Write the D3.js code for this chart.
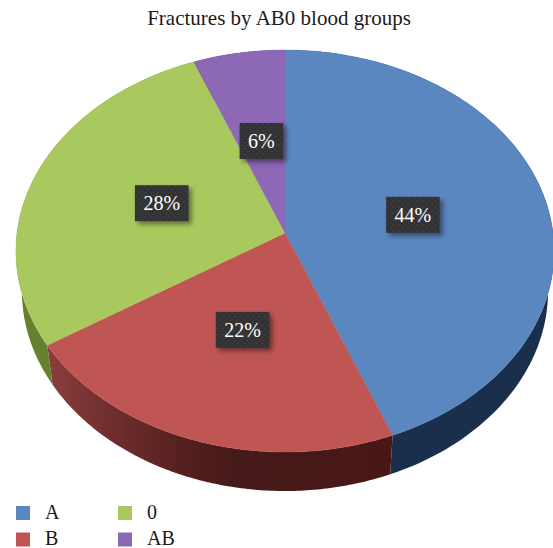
<!DOCTYPE html>
<html>
<head>
<meta charset="utf-8">
<script src="https://cdnjs.cloudflare.com/ajax/libs/d3/7.8.5/d3.min.js"></script>
<style>
  html, body { margin: 0; padding: 0; background: #fff; }
  svg { display: block; }
  text { font-family: "Liberation Serif", serif; fill: #1a1a1a; }
</style>
</head>
<body>
<svg id="chart" width="553" height="548"></svg>
<script>
const groups = ["A", "B", "0", "AB"];
const shares = [44, 22, 28, 6];
const faceColors = ["#5b87c0", "#c05654", "#a9c95f", "#8c68b5"];
const wallColors = ["#1a2f4c", "url(#redWall)", "#66802f", "#4a3563"];
const chartTitle = "Fractures by AB0 blood groups";

const width = 553;
const height = 548;
const svg = d3.select("#chart").attr("viewBox", `0 0 ${width} ${height}`);

// tilted pie: a projective map of the unit circle onto the screen
const apex = { x: 285, y: 233 };
const tilt = { k: 268, b: 178.5, c: -0.0896 };
const depth = { dy: 40, shrinkX: 263 / 269, shrinkY: 200 / 201, cx: 284, cy: 251 };

function projectTop(angle, r) {
  const ux = r * Math.sin(angle);
  const uy = -r * Math.cos(angle);
  const w = 1 + tilt.c * uy;
  return [apex.x + (tilt.k * ux) / w, (apex.y + tilt.b * uy) / w];
}

function projectBottom(angle) {
  const [x, y] = projectTop(angle, 1);
  return [
    depth.cx + (x - depth.cx) * depth.shrinkX,
    depth.cy + depth.dy + (y - depth.cy) * depth.shrinkY,
  ];
}

const pie = d3.pie().sort(null).value((d) => d.share);
const slices = pie(groups.map((g, i) => ({ group: g, share: shares[i] })));
const faceColor = d3.scaleOrdinal().domain(groups).range(faceColors);
const wallColor = d3.scaleOrdinal().domain(groups).range(wallColors);
const line = d3.line();

function arcAngles(d) {
  return d3.range(0, 121).map((i) => d.startAngle + ((d.endAngle - d.startAngle) * i) / 120);
}

const defs = svg.append("defs");

const redWall = defs
  .append("linearGradient")
  .attr("id", "redWall")
  .attr("gradientUnits", "userSpaceOnUse")
  .attr("x1", 45)
  .attr("x2", 392)
  .attr("y1", 0)
  .attr("y2", 0);
[
  [0, "#8c3f3d"],
  [0.16, "#72302f"],
  [0.45, "#501c1c"],
  [0.56, "#451a1a"],
  [1, "#4a1616"],
].forEach(([o, c]) => redWall.append("stop").attr("offset", o).attr("stop-color", c));

const dots = defs
  .append("pattern")
  .attr("id", "labelDots")
  .attr("patternUnits", "userSpaceOnUse")
  .attr("width", 6)
  .attr("height", 6);
dots.append("rect").attr("width", 6).attr("height", 6).attr("fill", "#333336");
dots.append("circle").attr("cx", 1.5).attr("cy", 1.5).attr("r", 0.8).attr("fill", "#444447");
dots.append("circle").attr("cx", 4.5).attr("cy", 4.5).attr("r", 0.8).attr("fill", "#444447");

defs
  .append("filter")
  .attr("id", "labelShadow")
  .attr("x", "-30%")
  .attr("y", "-30%")
  .attr("width", "170%")
  .attr("height", "170%")
  .append("feDropShadow")
  .attr("dx", 3)
  .attr("dy", 3)
  .attr("stdDeviation", 2.5)
  .attr("flood-color", "#000")
  .attr("flood-opacity", 0.45);

// side walls first, the top face paints over the hidden part
svg
  .append("g")
  .selectAll("path")
  .data(slices)
  .join("path")
  .attr("fill", (d) => wallColor(d.data.group))
  .attr("d", (d) => {
    const angles = arcAngles(d);
    const top = angles.map((a) => projectTop(a, 1));
    const bottom = angles.map(projectBottom).reverse();
    return line(top.concat(bottom)) + "Z";
  });

svg
  .append("g")
  .selectAll("path")
  .data(slices)
  .join("path")
  .attr("fill", (d) => faceColor(d.data.group))
  .attr("stroke", (d) => faceColor(d.data.group))
  .attr("stroke-width", 0.4)
  .attr("d", (d) => {
    const rim = arcAngles(d).map((a) => projectTop(a, 1));
    return line([[apex.x, apex.y]].concat(rim)) + "Z";
  });

// value labels
const labels = svg
  .append("g")
  .selectAll("g")
  .data(slices)
  .join("g")
  .attr("transform", (d) => {
    const [x, y] = projectTop((d.startAngle + d.endAngle) / 2, 0.49);
    return `translate(${x},${y})`;
  });

labels
  .append("text")
  .attr("text-anchor", "middle")
  .attr("dy", "0.35em")
  .style("font-size", "20px")
  .style("fill", "#fff")
  .text((d) => `${d.data.share}%`);

labels.each(function () {
  const g = d3.select(this);
  const w = g.select("text").node().getComputedTextLength() + 17;
  g.insert("rect", "text")
    .attr("x", -w / 2)
    .attr("y", -18)
    .attr("width", w)
    .attr("height", 36)
    .attr("fill", "url(#labelDots)")
    .attr("filter", "url(#labelShadow)");
});

svg
  .append("text")
  .attr("x", 279)
  .attr("y", 25)
  .attr("text-anchor", "middle")
  .style("font-size", "21px")
  .text(chartTitle);

// legend, two columns filled downwards
const legendX = d3.scalePoint().domain([0, 1]).range([16, 118]);
const legendY = d3.scalePoint().domain([0, 1]).range([506, 532.5]);
const legend = svg
  .append("g")
  .selectAll("g")
  .data(groups)
  .join("g")
  .attr("transform", (d, i) => `translate(${legendX(Math.floor(i / 2))},${legendY(i % 2)})`);

legend.append("rect").attr("width", 14).attr("height", 14).attr("fill", (d) => faceColor(d));

legend
  .append("text")
  .attr("x", 29)
  .attr("y", 12.5)
  .style("font-size", "20px")
  .text((d) => d);
</script>
</body>
</html>
